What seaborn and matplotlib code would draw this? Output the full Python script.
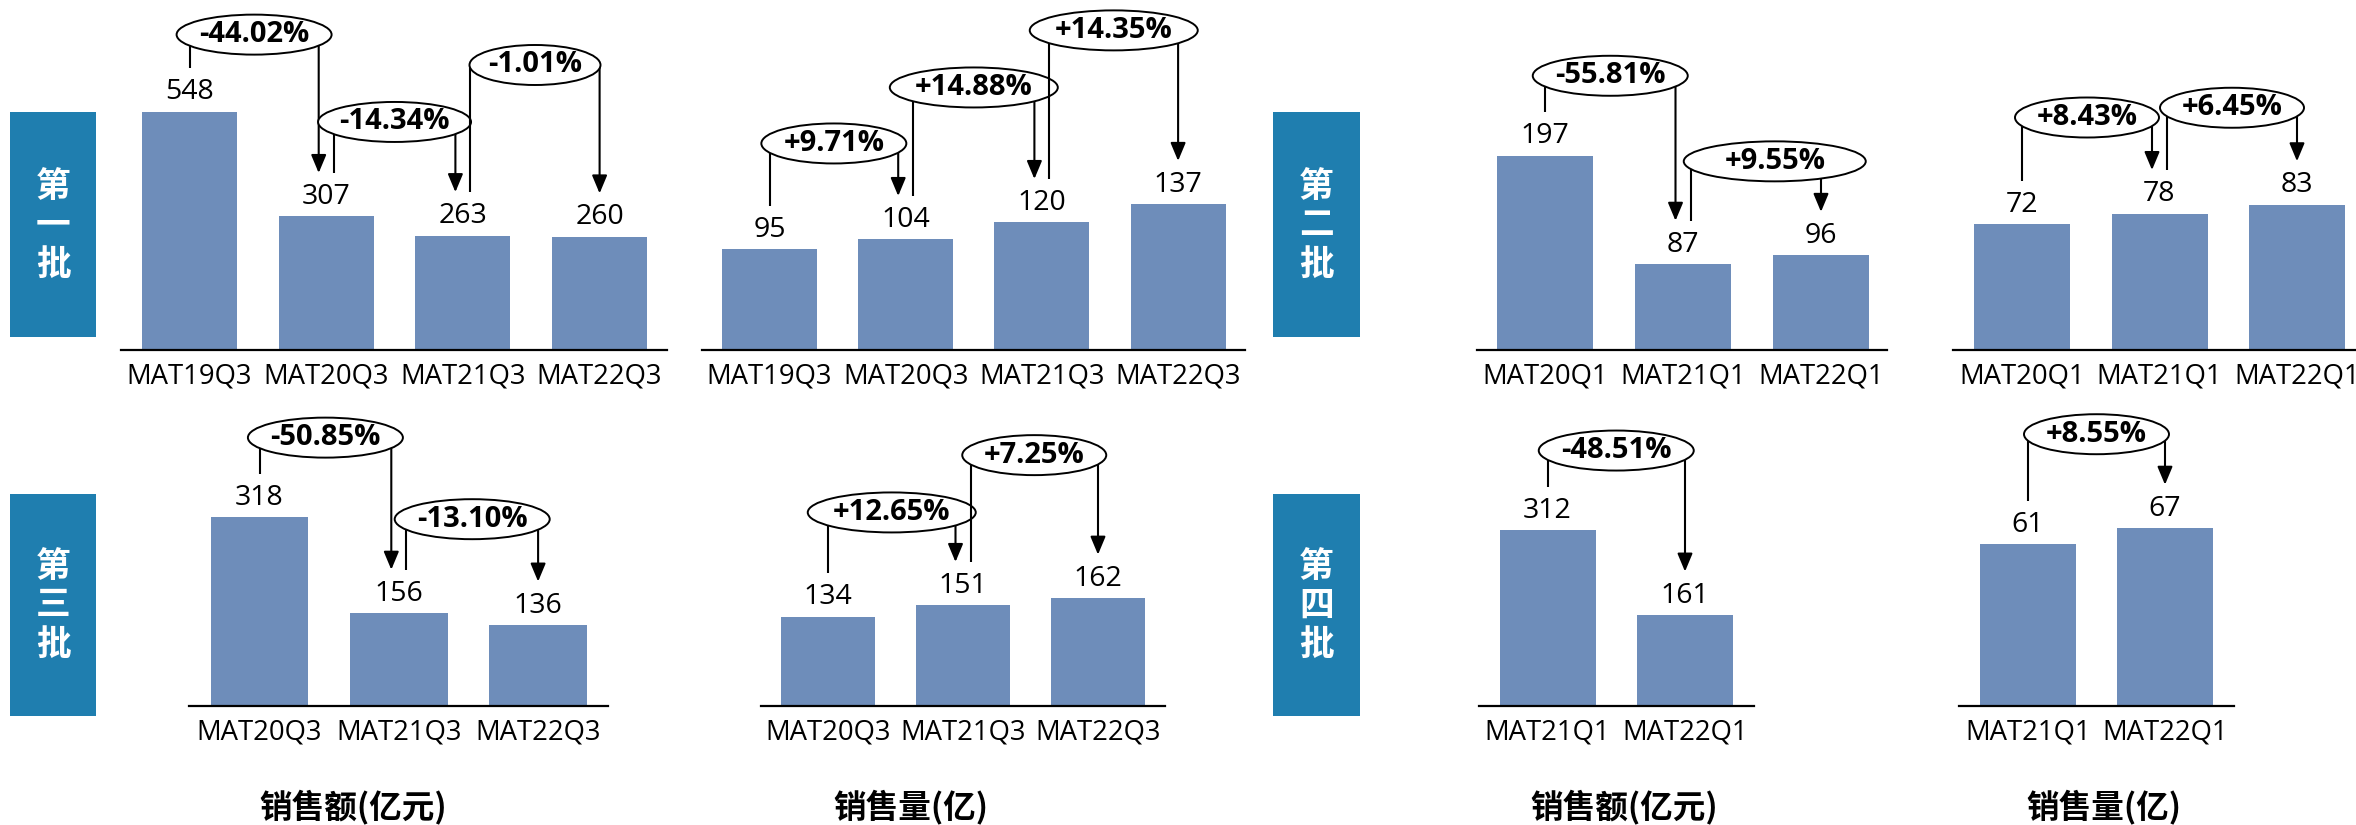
import matplotlib
matplotlib.use("Agg")
import matplotlib.pyplot as plt
from matplotlib.patches import Ellipse, FancyArrowPatch, Rectangle, ArrowStyle
import pandas as pd
import seaborn as sns

# ---------------- data ----------------
periods_q3_4 = ["MAT19Q3", "MAT20Q3", "MAT21Q3", "MAT22Q3"]
periods_q1_3 = ["MAT20Q1", "MAT21Q1", "MAT22Q1"]
periods_q3_3 = ["MAT20Q3", "MAT21Q3", "MAT22Q3"]
periods_q1_2 = ["MAT21Q1", "MAT22Q1"]

batch1_sales = [548, 307, 263, 260]
batch1_sales_growth = ["-44.02%", "-14.34%", "-1.01%"]
batch1_volume = [95, 104, 120, 137]
batch1_volume_growth = ["+9.71%", "+14.88%", "+14.35%"]

batch2_sales = [197, 87, 96]
batch2_sales_growth = ["-55.81%", "+9.55%"]
batch2_volume = [72, 78, 83]
batch2_volume_growth = ["+8.43%", "+6.45%"]

batch3_sales = [318, 156, 136]
batch3_sales_growth = ["-50.85%", "-13.10%"]
batch3_volume = [134, 151, 162]
batch3_volume_growth = ["+12.65%", "+7.25%"]

batch4_sales = [312, 161]
batch4_sales_growth = ["-48.51%"]
batch4_volume = [61, 67]
batch4_volume_growth = ["+8.55%"]

batch_labels = ["第一批", "第二批", "第三批", "第四批"]
sales_title = "销售额(亿元)"
volume_title = "销售量(亿)"

# ---------------- style ----------------
W, H, DPI = 2356, 825, 100
BAR_COLOR = "#6E8DBA"
BOX_COLOR = "#1F7EAF"
LINE_W = 1.5          # bracket line width (pt)
GAP_PX = 43.5         # gap between bar top and bracket line end
ELL_H_PX = 40         # ellipse height
SIDE_PX = 7.5         # side shift of in/out lines on shared bars

VALUE_FS = 20.5
TICK_FS = 19.8
PCT_FS = 21
TITLE_FS = 23.5
TAG_FS = 25

sns.set_style("white")
plt.rcParams["font.family"] = ["Open Sans", "Noto Sans CJK SC", "DejaVu Sans"]
CJK = ["Noto Sans CJK SC", "DejaVu Sans"]

fig = plt.figure(figsize=(W / DPI, H / DPI), dpi=DPI)
fig.patch.set_facecolor("white")

# panel geometry in pixels: axis-line extent, first bar centre, bar pitch, bar width,
# baseline, top of axes, y-limit, ellipse lift above higher bar, ellipse width, ellipse shift
panels = [
    dict(cats=periods_q3_4, vals=batch1_sales, growth=batch1_sales_growth,
         x0=121, x1=667, c0=189.5, step=136.7, bw=95, base=350, top=0, ymax=804.6,
         lift=[77, 94.5, 170.6], ew=[155, 153, 131], edx=[0, 0, 0]),
    dict(cats=periods_q3_4, vals=batch1_volume, growth=batch1_volume_growth,
         x0=702, x1=1245, c0=769.5, step=136.2, bw=95, base=350, top=0, ymax=329.3,
         lift=[96, 135, 174], ew=[145, 168, 168], edx=[0, 0, 0]),
    dict(cats=periods_q1_3, vals=batch2_sales, growth=batch2_sales_growth,
         x0=1477, x1=1887, c0=1545, step=138, bw=96, base=350, top=0, ymax=355,
         lift=[80, 94], ew=[155, 182], edx=[0, 19]),
    dict(cats=periods_q1_3, vals=batch2_volume, growth=batch2_volume_growth,
         x0=1953, x1=2366, c0=2022, step=137.5, bw=96, base=350, top=0, ymax=200,
         lift=[96, 97], ew=[144, 144], edx=[0, 0]),
    dict(cats=periods_q3_3, vals=batch3_sales, growth=batch3_sales_growth,
         x0=189, x1=608, c0=259.5, step=139.3, bw=97.5, base=705.7, top=400, ymax=515.5,
         lift=[79.5, 94], ew=[155, 155], edx=[0, 0]),
    dict(cats=periods_q3_3, vals=batch3_volume, growth=batch3_volume_growth,
         x0=761, x1=1165, c0=828, step=135, bw=94, base=705.7, top=400, ymax=460.4,
         lift=[93, 143], ew=[168, 144], edx=[0, 0]),
    dict(cats=periods_q1_2, vals=batch4_sales, growth=batch4_sales_growth,
         x0=1478.5, x1=1753.6, c0=1547.5, step=137.5, bw=96, base=705.7, top=400, ymax=543,
         lift=[79.5], ew=[155], edx=[0]),
    dict(cats=periods_q1_2, vals=batch4_volume, growth=batch4_volume_growth,
         x0=1959, x1=2234, c0=2028, step=137, bw=96, base=705.7, top=400, ymax=115.4,
         lift=[94], ew=[145], edx=[0]),
]


def draw_panel(p):
    ax = fig.add_axes([p["x0"] / W, 1 - p["base"] / H,
                       (p["x1"] - p["x0"]) / W, (p["base"] - p["top"]) / H])
    ax.patch.set_alpha(0)
    df = pd.DataFrame({"period": p["cats"], "value": p["vals"]})
    sns.barplot(data=df, x="period", y="value", ax=ax, color=BAR_COLOR,
                saturation=1, width=p["bw"] / p["step"], errorbar=None, linewidth=0)
    ax.set_xlim(-(p["c0"] - p["x0"]) / p["step"], (p["x1"] - p["c0"]) / p["step"])
    ax.set_ylim(0, p["ymax"])
    ax.set_xlabel("")
    ax.set_ylabel("")
    ax.set_yticks([])
    for side in ("top", "left", "right"):
        ax.spines[side].set_visible(False)
    ax.spines["bottom"].set_linewidth(1.6)
    ax.spines["bottom"].set_color("black")
    ax.tick_params(axis="x", length=0, pad=9, labelsize=TICK_FS, labelcolor="black")

    k = (p["base"] - p["top"]) / p["ymax"]     # pixels per value unit
    sx = p["step"]                              # pixels per category step
    vals = p["vals"]
    n = len(vals)

    for i, v in enumerate(vals):
        ax.annotate(f"{v}", (i, v), xytext=(0, 12.5), textcoords="offset pixels",
                    ha="center", va="baseline", fontsize=VALUE_FS, color="black")

    for b, label in enumerate(p["growth"]):
        i, j = b, b + 1
        xs = i + (SIDE_PX / sx if i > 0 else 0)
        xe = j - (SIDE_PX / sx if j < n - 1 else 0)
        ys = vals[i] + GAP_PX / k
        ye = vals[j] + GAP_PX / k
        ey = max(vals[i], vals[j]) + p["lift"][b] / k
        ex = (xs + xe) / 2 + p["edx"][b] / sx
        z = 3 + 2 * b
        ax.plot([xs, xs], [ys, ey], color="black", lw=LINE_W, zorder=z,
                clip_on=False, solid_capstyle="butt")
        arrow = FancyArrowPatch((xe, ey), (xe, ye),
                                arrowstyle=ArrowStyle("-|>", head_length=11, head_width=4.6),
                                mutation_scale=1, lw=LINE_W, color="black",
                                shrinkA=0, shrinkB=0, zorder=z, clip_on=False)
        ax.add_patch(arrow)
        ax.add_patch(Ellipse((ex, ey), width=p["ew"][b] / sx, height=ELL_H_PX / k,
                             facecolor="white", edgecolor="black", lw=1.4,
                             zorder=z + 1, clip_on=False))
        ax.text(ex, ey, label, ha="center", va="center", fontsize=PCT_FS,
                fontweight="bold", color="black", zorder=z + 1.5, clip_on=False)
    return ax


for p in panels:
    draw_panel(p)

# batch tags on the left of each group
boxes = [(10, 112, 96, 337), (1273, 112, 1360, 337),
         (10, 494, 96, 716), (1273, 494, 1360, 716)]
for (bx0, by0, bx1, by1), tag in zip(boxes, batch_labels):
    fig.add_artist(Rectangle((bx0 / W, 1 - by1 / H), (bx1 - bx0) / W, (by1 - by0) / H,
                             transform=fig.transFigure, facecolor=BOX_COLOR,
                             edgecolor="none"))
    cx = (bx0 + bx1) / 2
    cy = (by0 + by1) / 2
    for off, ch in zip((-38.5, 0, 39.5), tag):
        fig.text(cx / W, 1 - (cy + off) / H, ch, ha="center", va="center",
                 fontsize=TAG_FS, fontweight="bold", color="white", family=CJK)

# metric titles under the bottom row
for tx, title in [(353, sales_title), (911, volume_title),
                  (1624, sales_title), (2104, volume_title)]:
    fig.text(tx / W, 1 - 807 / H, title, ha="center", va="center",
             fontsize=TITLE_FS, fontweight="bold", color="black", family=CJK)

fig.savefig("out.png", dpi=DPI, facecolor="white")
